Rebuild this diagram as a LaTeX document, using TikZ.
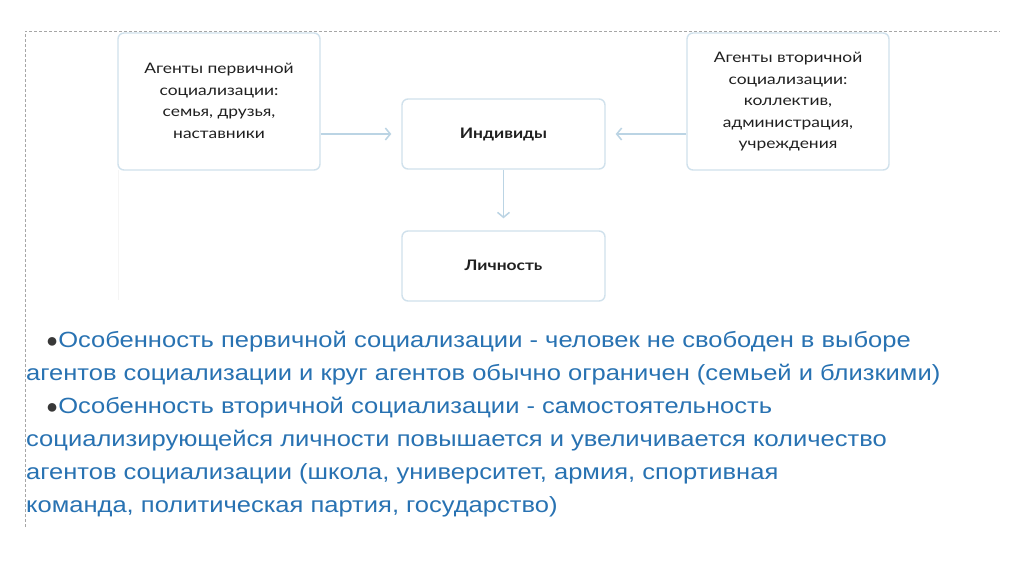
\documentclass[tikz,border=0pt]{standalone}
\usepackage{fontspec}
\usepackage{graphicx}
\setmainfont{Liberation Sans}
\newfontfamily\boxfont{Lato}
\usetikzlibrary{arrows.meta}
\definecolor{boxline}{HTML}{D0E1EC}
\definecolor{arrowc}{HTML}{BBD4E4}
\definecolor{txtblue}{HTML}{2872B2}
\definecolor{bulletc}{HTML}{383838}
\definecolor{boxtext}{HTML}{202020}
\newcommand{\blt}{{\color{bulletc}\fontsize{20}{33}\selectfont ●}}
\newcommand{\wide}[1]{\scalebox{1.16}[1]{#1}}
\newcommand{\bx}[1]{\scalebox{1.2}[1]{\begin{tabular}{@{}c@{}}#1\end{tabular}}}
\begin{document}
\begin{tikzpicture}[x=1pt,y=-1pt,
  box/.style={draw=boxline, line width=1.4pt, rounded corners=6pt, fill=white, align=center,
    font=\boxfont\fontsize{14.5}{21.5}\selectfont, text=boxtext, inner sep=0pt},
  bbox/.style={box, font=\boxfont\bfseries\fontsize{14.5}{21.5}\selectfont},
  conn/.style={draw=arrowc, line width=1.5pt, -{Straight Barb[length=5pt,width=12pt]}},
  body/.style={anchor=base west, inner sep=0pt, text=txtblue, font=\fontsize{22}{33}\selectfont}]
\useasboundingbox (0,0) rectangle (1024,574);
\fill[white] (0,0) rectangle (1024,574);
\draw[gray!70, dash pattern=on 3pt off 2pt, line width=0.6pt] (25,527) -- (25,31) -- (1000,31);
\draw[gray!8, line width=1pt] (118,170) -- (118,300);
\node[box, minimum width=202pt, minimum height=137pt] (p) at (219,101.5)
  {\bx{Агенты первичной\\социализации:\\семья, друзья,\\наставники}};
\node[box, minimum width=202pt, minimum height=137pt] (s) at (788,101.5)
  {\bx{Агенты вторичной\\социализации:\\коллектив,\\администрация,\\учреждения}};
\node[bbox, minimum width=203pt, minimum height=70pt] (i) at (503.5,134) {\bx{Индивиды}};
\node[bbox, minimum width=203pt, minimum height=70pt] (l) at (503.5,266) {\bx{Личность}};
\draw[conn, shorten >=10pt] (p.east |- i.west) -- (i.west);
\draw[conn, shorten >=10pt] (s.west |- i.east) -- (i.east);
\draw[conn, shorten >=12pt] (i.south) -- (l.north);
\node[body] (t1) at (46,347) {\blt\wide{Особенность первичной социализации - человек не свободен в выборе}};
\node[body] (t2) at (26,380) {\wide{агентов социализации и круг агентов обычно ограничен (семьей и близкими)}};
\node[body] (t3) at (46,413) {\blt\wide{Особенность вторичной социализации - самостоятельность}};
\node[body] (t4) at (26,446) {\wide{социализирующейся личности повышается и увеличивается количество}};
\node[body] (t5) at (26,479) {\wide{агентов социализации (школа, университет, армия, спортивная}};
\node[body] (t6) at (26,512) {\wide{команда, политическая партия, государство)}};
\end{tikzpicture}
\end{document}
